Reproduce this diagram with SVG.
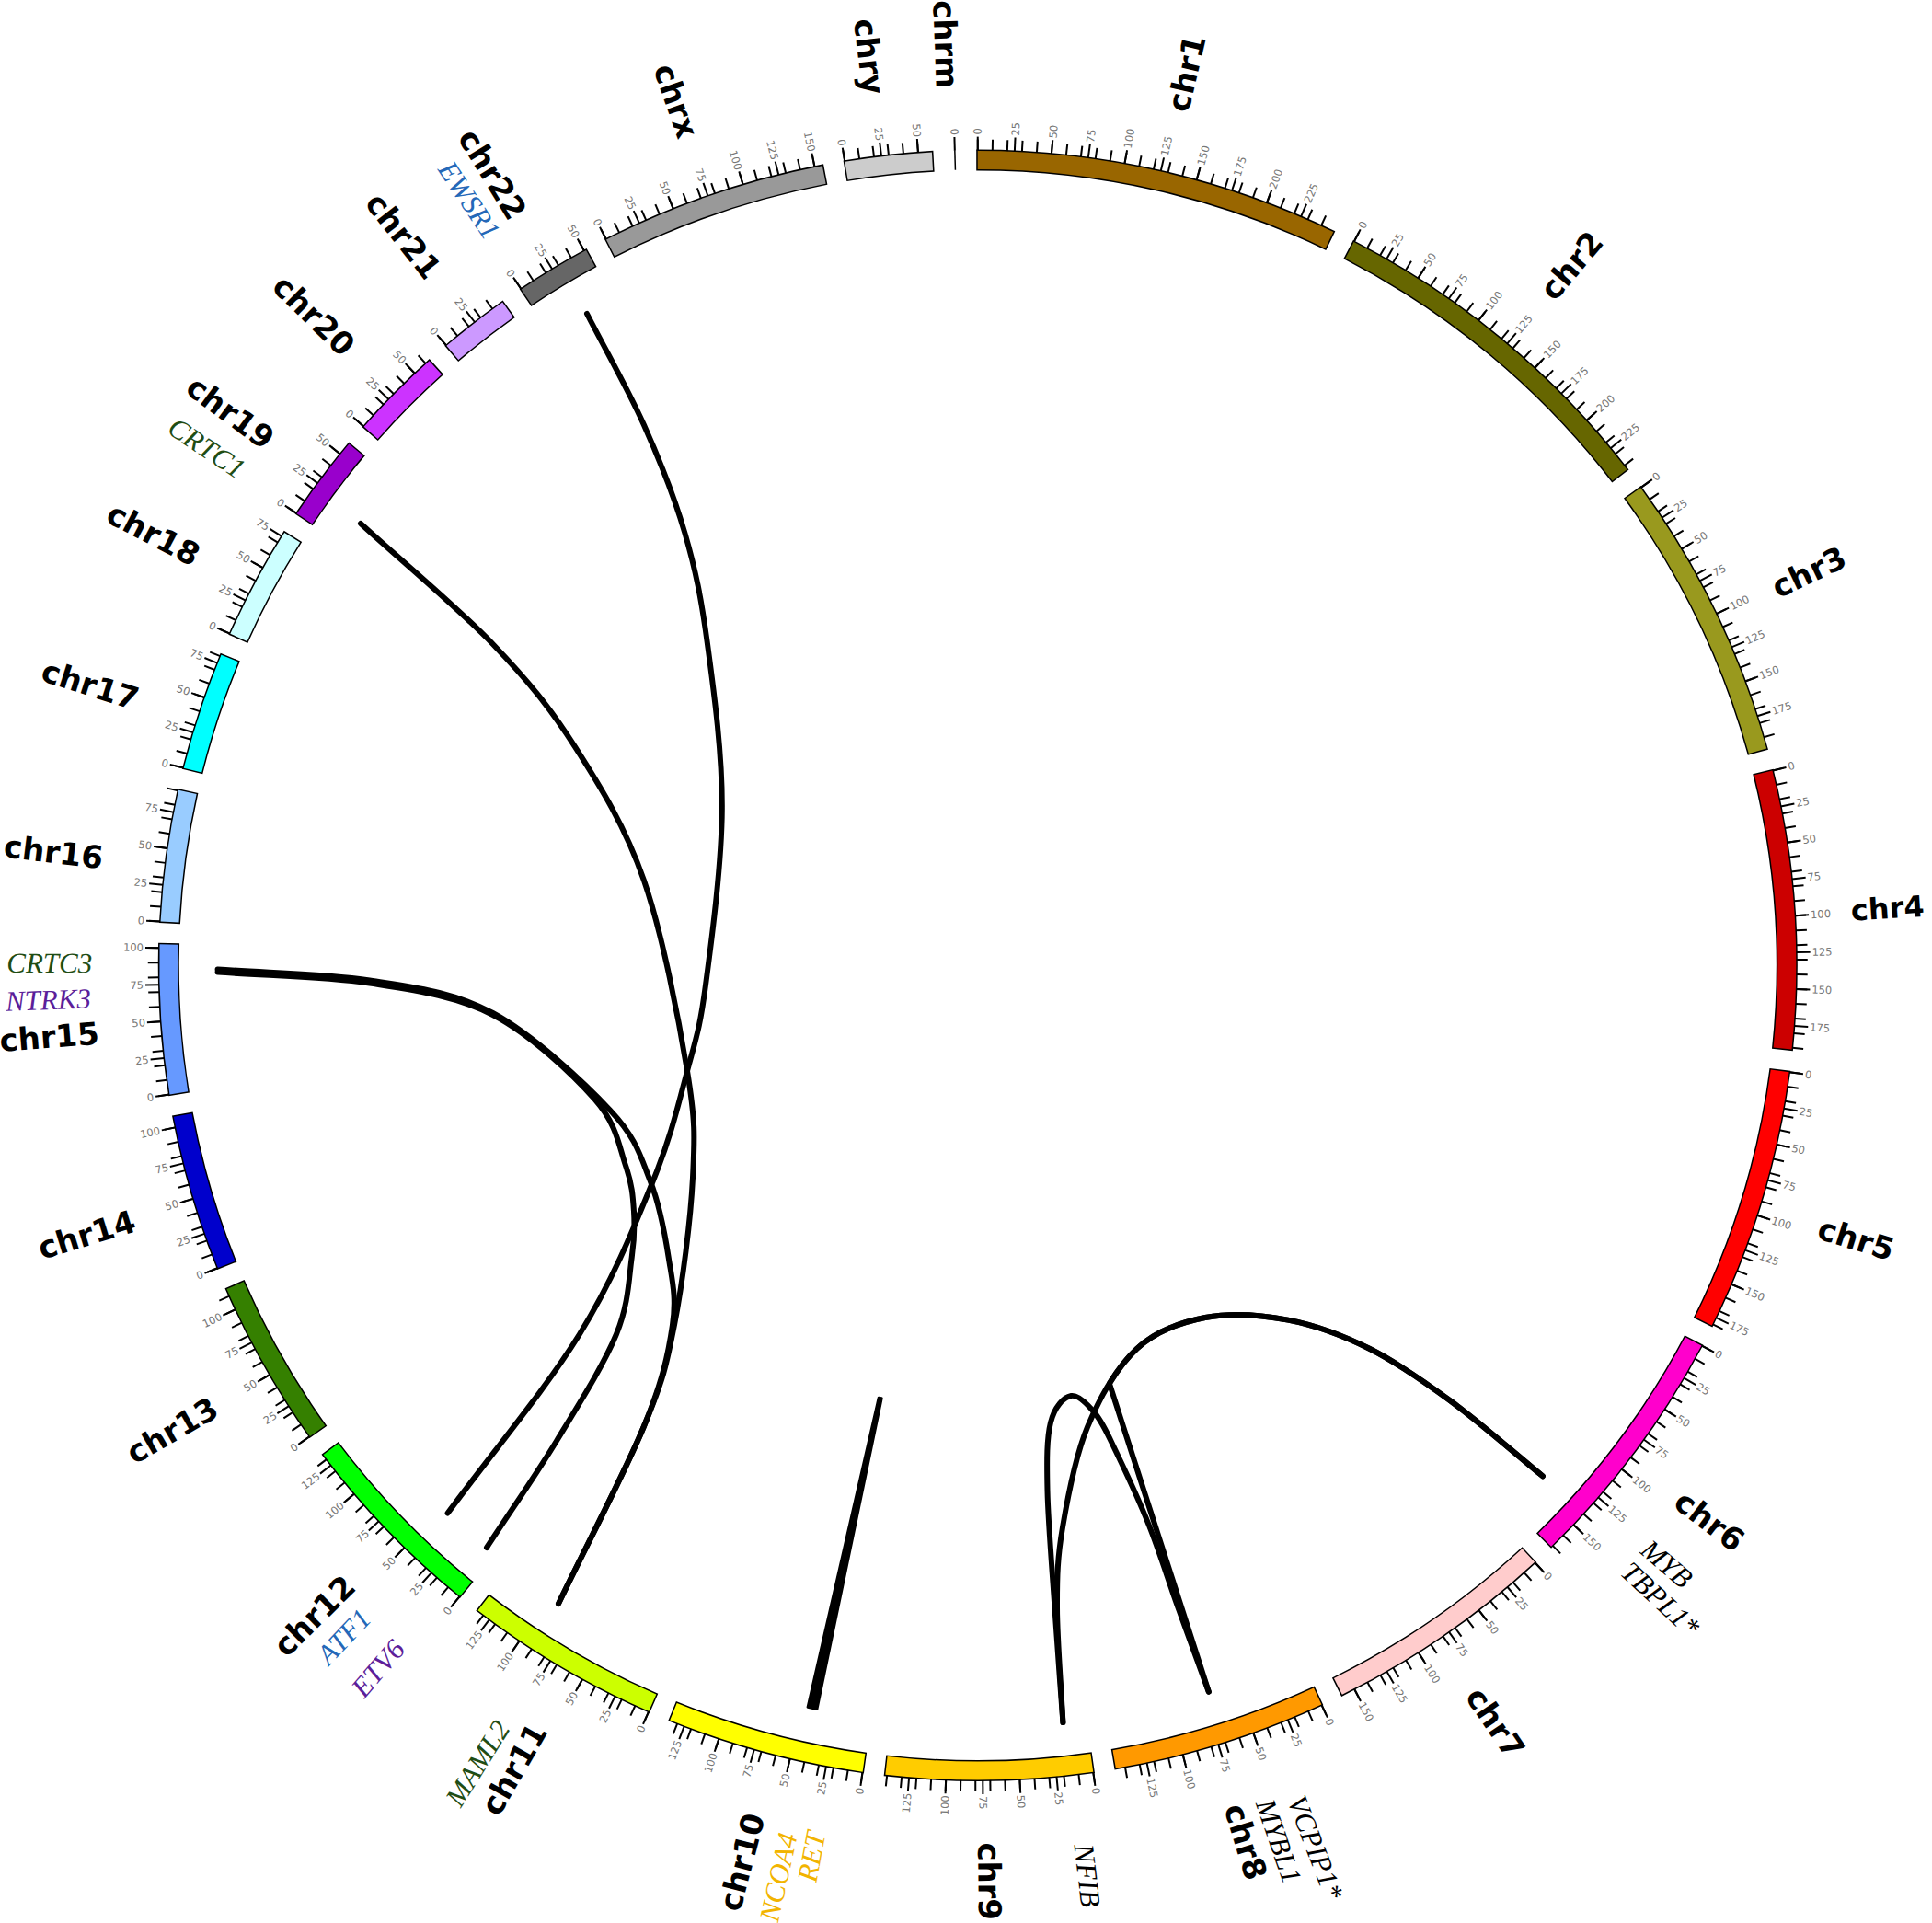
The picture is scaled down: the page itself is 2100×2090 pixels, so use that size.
<svg xmlns="http://www.w3.org/2000/svg" xmlns:xlink="http://www.w3.org/1999/xlink" width="2100" height="2090" viewBox="0 0 2100 2090">
<style>
.ol{fill:none;stroke:#000;stroke-width:23}
.bd{fill:none;stroke-width:20}
.tk{stroke:#000;stroke-width:2}
.tl{font-family:"DejaVu Sans",sans-serif;font-size:11.5px;fill:#777;dominant-baseline:central}
.r{text-anchor:start}
.l{text-anchor:end}
.cl{font-family:"DejaVu Sans",sans-serif;font-weight:bold;font-size:34px;fill:#000;dominant-baseline:central}
.gl{font-family:"Liberation Serif",serif;font-style:italic;font-size:31px;dominant-baseline:central;text-anchor:middle}
.lk{fill:none;stroke:#000;stroke-width:6;stroke-linecap:round;stroke-linejoin:round}
</style>
<defs>
<g id="a1"><line class="tk" x1="0" y1="-890" x2="0" y2="-902"/></g>
<g id="a2"><use href="#a1"/><use href="#a1" transform="rotate(1.0335)"/></g>
<g id="a4"><use href="#a2"/><use href="#a2" transform="rotate(2.067)"/></g>
<g id="a8"><use href="#a4"/><use href="#a4" transform="rotate(4.134)"/></g>
<g id="a16"><use href="#a8"/><use href="#a8" transform="rotate(8.268)"/></g>
<g id="c25"><use href="#a16"/><use href="#a8" transform="rotate(16.536)"/><use href="#a1" transform="rotate(24.804)"/></g>
<g id="c20"><use href="#a16"/><use href="#a4" transform="rotate(16.536)"/></g>
<g id="c19"><use href="#a16"/><use href="#a2" transform="rotate(16.536)"/><use href="#a1" transform="rotate(18.603)"/></g>
<g id="c18"><use href="#a16"/><use href="#a2" transform="rotate(16.536)"/></g>
<g id="c16"><use href="#a16"/></g>
<g id="c15"><use href="#a8"/><use href="#a4" transform="rotate(8.268)"/><use href="#a2" transform="rotate(12.402)"/><use href="#a1" transform="rotate(14.469)"/></g>
<g id="c14"><use href="#a8"/><use href="#a4" transform="rotate(8.268)"/><use href="#a2" transform="rotate(12.402)"/></g>
<g id="c12"><use href="#a8"/><use href="#a4" transform="rotate(8.268)"/></g>
<g id="c11"><use href="#a8"/><use href="#a2" transform="rotate(8.268)"/><use href="#a1" transform="rotate(10.335)"/></g>
<g id="c10"><use href="#a8"/><use href="#a2" transform="rotate(8.268)"/></g>
<g id="c9"><use href="#a8"/><use href="#a1" transform="rotate(8.268)"/></g>
<g id="c8"><use href="#a8"/></g>
<g id="c7"><use href="#a4"/><use href="#a2" transform="rotate(4.134)"/><use href="#a1" transform="rotate(6.201)"/></g>
<g id="c6"><use href="#a4"/><use href="#a2" transform="rotate(4.134)"/></g>
<g id="c5"><use href="#a4"/><use href="#a1" transform="rotate(4.134)"/></g>
<g id="b1"><line class="tk" x1="0" y1="-890" x2="0" y2="-905"/></g>
<g id="b2"><use href="#b1"/><use href="#b1" transform="rotate(2.58375)"/></g>
<g id="b4"><use href="#b2"/><use href="#b2" transform="rotate(5.1675)"/></g>
<g id="b8"><use href="#b4"/><use href="#b4" transform="rotate(10.335)"/></g>
<g id="d10"><use href="#b8"/><use href="#b2" transform="rotate(20.67)"/></g>
<g id="d8"><use href="#b8"/></g>
<g id="d7"><use href="#b4"/><use href="#b2" transform="rotate(10.335)"/><use href="#b1" transform="rotate(15.5025)"/></g>
<g id="d6"><use href="#b4"/><use href="#b2" transform="rotate(10.335)"/></g>
<g id="d5"><use href="#b4"/><use href="#b1" transform="rotate(10.335)"/></g>
<g id="d4"><use href="#b4"/></g>
<g id="d3"><use href="#b2"/><use href="#b1" transform="rotate(5.1675)"/></g>
<g id="d2"><use href="#b2"/></g>
</defs>
<rect width="2100" height="2090" fill="#fff"/>
<g id="ideogram" transform="translate(1062.75,1049.25) scale(1,0.9952)">
<g id="chr1" transform="rotate(0)">
<circle class="ol" r="879.5" pathLength="360" transform="rotate(-90.1)" stroke-dasharray="25.96 400"/>
<circle class="bd" stroke="#996600" r="879.5" pathLength="360" transform="rotate(-90)" stroke-dasharray="25.76 400"/>
<use href="#c25"/><use href="#d10"/>
<text class="tl r" transform="rotate(-90)" x="907">0</text>
<text class="tl r" transform="rotate(-87.416)" x="907">25</text>
<text class="tl r" transform="rotate(-84.832)" x="907">50</text>
<text class="tl r" transform="rotate(-82.249)" x="907">75</text>
<text class="tl r" transform="rotate(-79.665)" x="907">100</text>
<text class="tl r" transform="rotate(-77.081)" x="907">125</text>
<text class="tl r" transform="rotate(-74.497)" x="907">150</text>
<text class="tl r" transform="rotate(-71.914)" x="907">175</text>
<text class="tl r" transform="rotate(-69.33)" x="907">200</text>
<text class="tl r" transform="rotate(-66.746)" x="907">225</text>
<text class="cl r" transform="rotate(-76.87)" x="958">chr1</text>
</g>
<g id="chr2" transform="rotate(27.362)">
<circle class="ol" r="879.5" pathLength="360" transform="rotate(-90.1)" stroke-dasharray="25.335 400"/>
<circle class="bd" stroke="#666600" r="879.5" pathLength="360" transform="rotate(-90)" stroke-dasharray="25.135 400"/>
<use href="#c25"/><use href="#d10"/>
<text class="tl r" transform="rotate(-90)" x="907">0</text>
<text class="tl r" transform="rotate(-87.416)" x="907">25</text>
<text class="tl r" transform="rotate(-84.832)" x="907">50</text>
<text class="tl r" transform="rotate(-82.249)" x="907">75</text>
<text class="tl r" transform="rotate(-79.665)" x="907">100</text>
<text class="tl r" transform="rotate(-77.081)" x="907">125</text>
<text class="tl r" transform="rotate(-74.497)" x="907">150</text>
<text class="tl r" transform="rotate(-71.914)" x="907">175</text>
<text class="tl r" transform="rotate(-69.33)" x="907">200</text>
<text class="tl r" transform="rotate(-66.746)" x="907">225</text>
<text class="cl r" transform="rotate(-77.16)" x="958">chr2</text>
</g>
<g id="chr3" transform="rotate(54.1)">
<circle class="ol" r="879.5" pathLength="360" transform="rotate(-90.1)" stroke-dasharray="20.665 400"/>
<circle class="bd" stroke="#99991E" r="879.5" pathLength="360" transform="rotate(-90)" stroke-dasharray="20.465 400"/>
<use href="#c20"/><use href="#d8"/>
<text class="tl r" transform="rotate(-90)" x="907">0</text>
<text class="tl r" transform="rotate(-87.416)" x="907">25</text>
<text class="tl r" transform="rotate(-84.832)" x="907">50</text>
<text class="tl r" transform="rotate(-82.249)" x="907">75</text>
<text class="tl r" transform="rotate(-79.665)" x="907">100</text>
<text class="tl r" transform="rotate(-77.081)" x="907">125</text>
<text class="tl r" transform="rotate(-74.497)" x="907">150</text>
<text class="tl r" transform="rotate(-71.914)" x="907">175</text>
<text class="cl r" transform="rotate(-79.5)" x="958">chr3</text>
</g>
<g id="chr4" transform="rotate(76.167)">
<circle class="ol" r="879.5" pathLength="360" transform="rotate(-90.1)" stroke-dasharray="19.955 400"/>
<circle class="bd" stroke="#CC0000" r="879.5" pathLength="360" transform="rotate(-90)" stroke-dasharray="19.755 400"/>
<use href="#c20"/><use href="#d8"/>
<text class="tl r" transform="rotate(-90)" x="907">0</text>
<text class="tl r" transform="rotate(-87.416)" x="907">25</text>
<text class="tl r" transform="rotate(-84.832)" x="907">50</text>
<text class="tl r" transform="rotate(-82.249)" x="907">75</text>
<text class="tl r" transform="rotate(-79.665)" x="907">100</text>
<text class="tl r" transform="rotate(-77.081)" x="907">125</text>
<text class="tl r" transform="rotate(-74.497)" x="907">150</text>
<text class="tl r" transform="rotate(-71.914)" x="907">175</text>
<text class="cl r" transform="rotate(-79.77)" x="951" style="font-size:32px">chr4</text>
</g>
<g id="chr5" transform="rotate(97.525)">
<circle class="ol" r="879.5" pathLength="360" transform="rotate(-90.1)" stroke-dasharray="18.898 400"/>
<circle class="bd" stroke="#FF0000" r="879.5" pathLength="360" transform="rotate(-90)" stroke-dasharray="18.698 400"/>
<use href="#c19"/><use href="#d8"/>
<text class="tl r" transform="rotate(-90)" x="907">0</text>
<text class="tl r" transform="rotate(-87.416)" x="907">25</text>
<text class="tl r" transform="rotate(-84.832)" x="907">50</text>
<text class="tl r" transform="rotate(-82.249)" x="907">75</text>
<text class="tl r" transform="rotate(-79.665)" x="907">100</text>
<text class="tl r" transform="rotate(-77.081)" x="907">125</text>
<text class="tl r" transform="rotate(-74.497)" x="907">150</text>
<text class="tl r" transform="rotate(-71.914)" x="907">175</text>
<text class="cl r" transform="rotate(-80.12)" x="958">chr5</text>
</g>
<g id="chr6" transform="rotate(117.825)">
<circle class="ol" r="879.5" pathLength="360" transform="rotate(-90.1)" stroke-dasharray="17.885 400"/>
<circle class="bd" stroke="#FF00CC" r="879.5" pathLength="360" transform="rotate(-90)" stroke-dasharray="17.685 400"/>
<use href="#c18"/><use href="#d7"/>
<text class="tl r" transform="rotate(-90)" x="907">0</text>
<text class="tl r" transform="rotate(-87.416)" x="907">25</text>
<text class="tl r" transform="rotate(-84.832)" x="907">50</text>
<text class="tl r" transform="rotate(-82.249)" x="907">75</text>
<text class="tl r" transform="rotate(-79.665)" x="907">100</text>
<text class="tl r" transform="rotate(-77.081)" x="907">125</text>
<text class="tl r" transform="rotate(-74.497)" x="907">150</text>
<text class="cl r" transform="rotate(-80.47)" x="958">chr6</text>
</g>
<g id="chr7" transform="rotate(137.113)">
<circle class="ol" r="879.5" pathLength="360" transform="rotate(-90.1)" stroke-dasharray="16.647 400"/>
<circle class="bd" stroke="#FFCCCC" r="879.5" pathLength="360" transform="rotate(-90)" stroke-dasharray="16.447 400"/>
<use href="#c16"/><use href="#d7"/>
<text class="tl r" transform="rotate(-90)" x="907">0</text>
<text class="tl r" transform="rotate(-87.416)" x="907">25</text>
<text class="tl r" transform="rotate(-84.832)" x="907">50</text>
<text class="tl r" transform="rotate(-82.249)" x="907">75</text>
<text class="tl r" transform="rotate(-79.665)" x="907">100</text>
<text class="tl r" transform="rotate(-77.081)" x="907">125</text>
<text class="tl r" transform="rotate(-74.497)" x="907">150</text>
<text class="cl r" transform="rotate(-81.31)" x="958">chr7</text>
</g>
<g id="chr8" transform="rotate(155.163)">
<circle class="ol" r="879.5" pathLength="360" transform="rotate(-90.1)" stroke-dasharray="15.326 400"/>
<circle class="bd" stroke="#FF9900" r="879.5" pathLength="360" transform="rotate(-90)" stroke-dasharray="15.126 400"/>
<use href="#c15"/><use href="#d6"/>
<text class="tl r" transform="rotate(-90)" x="907">0</text>
<text class="tl r" transform="rotate(-87.416)" x="907">25</text>
<text class="tl r" transform="rotate(-84.832)" x="907">50</text>
<text class="tl r" transform="rotate(-82.249)" x="907">75</text>
<text class="tl r" transform="rotate(-79.665)" x="907">100</text>
<text class="tl r" transform="rotate(-77.081)" x="907">125</text>
<text class="cl r" transform="rotate(-82.06)" x="958">chr8</text>
</g>
<g id="chr9" transform="rotate(171.891)">
<circle class="ol" r="879.5" pathLength="360" transform="rotate(-90.1)" stroke-dasharray="14.794 400"/>
<circle class="bd" stroke="#FFCC00" r="879.5" pathLength="360" transform="rotate(-90)" stroke-dasharray="14.594 400"/>
<use href="#c15"/><use href="#d6"/>
<text class="tl r" transform="rotate(-90)" x="907">0</text>
<text class="tl r" transform="rotate(-87.416)" x="907">25</text>
<text class="tl r" transform="rotate(-84.832)" x="907">50</text>
<text class="tl r" transform="rotate(-82.249)" x="907">75</text>
<text class="tl l" transform="rotate(100.335)" x="-907">100</text>
<text class="tl l" transform="rotate(102.919)" x="-907">125</text>
<text class="cl r" transform="rotate(-82.59)" x="958">chr9</text>
</g>
<g id="chr10" transform="rotate(188.088)">
<circle class="ol" r="879.5" pathLength="360" transform="rotate(-90.1)" stroke-dasharray="14.207 400"/>
<circle class="bd" stroke="#FFFF00" r="879.5" pathLength="360" transform="rotate(-90)" stroke-dasharray="14.007 400"/>
<use href="#c14"/><use href="#d6"/>
<text class="tl l" transform="rotate(90)" x="-907">0</text>
<text class="tl l" transform="rotate(92.584)" x="-907">25</text>
<text class="tl l" transform="rotate(95.168)" x="-907">50</text>
<text class="tl l" transform="rotate(97.751)" x="-907">75</text>
<text class="tl l" transform="rotate(100.335)" x="-907">100</text>
<text class="tl l" transform="rotate(102.919)" x="-907">125</text>
<text class="cl l" transform="rotate(96.56)" x="-958">chr10</text>
</g>
<g id="chr11" transform="rotate(203.697)">
<circle class="ol" r="879.5" pathLength="360" transform="rotate(-90.1)" stroke-dasharray="14.153 400"/>
<circle class="bd" stroke="#CCFF00" r="879.5" pathLength="360" transform="rotate(-90)" stroke-dasharray="13.953 400"/>
<use href="#c14"/><use href="#d6"/>
<text class="tl l" transform="rotate(90)" x="-907">0</text>
<text class="tl l" transform="rotate(92.584)" x="-907">25</text>
<text class="tl l" transform="rotate(95.168)" x="-907">50</text>
<text class="tl l" transform="rotate(97.751)" x="-907">75</text>
<text class="tl l" transform="rotate(100.335)" x="-907">100</text>
<text class="tl l" transform="rotate(102.919)" x="-907">125</text>
<text class="cl l" transform="rotate(96.15)" x="-958">chr11</text>
</g>
<g id="chr12" transform="rotate(219.253)">
<circle class="ol" r="879.5" pathLength="360" transform="rotate(-90.1)" stroke-dasharray="14.033 400"/>
<circle class="bd" stroke="#00FF00" r="879.5" pathLength="360" transform="rotate(-90)" stroke-dasharray="13.833 400"/>
<use href="#c14"/><use href="#d6"/>
<text class="tl l" transform="rotate(90)" x="-907">0</text>
<text class="tl l" transform="rotate(92.584)" x="-907">25</text>
<text class="tl l" transform="rotate(95.168)" x="-907">50</text>
<text class="tl l" transform="rotate(97.751)" x="-907">75</text>
<text class="tl l" transform="rotate(100.335)" x="-907">100</text>
<text class="tl l" transform="rotate(102.919)" x="-907">125</text>
<text class="cl l" transform="rotate(96.15)" x="-958">chr12</text>
</g>
<g id="chr13" transform="rotate(234.689)">
<circle class="ol" r="879.5" pathLength="360" transform="rotate(-90.1)" stroke-dasharray="12.103 400"/>
<circle class="bd" stroke="#358000" r="879.5" pathLength="360" transform="rotate(-90)" stroke-dasharray="11.903 400"/>
<use href="#c12"/><use href="#d5"/>
<text class="tl l" transform="rotate(90)" x="-907">0</text>
<text class="tl l" transform="rotate(92.584)" x="-907">25</text>
<text class="tl l" transform="rotate(95.168)" x="-907">50</text>
<text class="tl l" transform="rotate(97.751)" x="-907">75</text>
<text class="tl l" transform="rotate(100.335)" x="-907">100</text>
<text class="cl l" transform="rotate(95.17)" x="-958">chr13</text>
</g>
<g id="chr14" transform="rotate(248.194)">
<circle class="ol" r="879.5" pathLength="360" transform="rotate(-90.1)" stroke-dasharray="11.295 400"/>
<circle class="bd" stroke="#0000CC" r="879.5" pathLength="360" transform="rotate(-90)" stroke-dasharray="11.095 400"/>
<use href="#c11"/><use href="#d5"/>
<text class="tl l" transform="rotate(90)" x="-907">0</text>
<text class="tl l" transform="rotate(92.584)" x="-907">25</text>
<text class="tl l" transform="rotate(95.168)" x="-907">50</text>
<text class="tl l" transform="rotate(97.751)" x="-907">75</text>
<text class="tl l" transform="rotate(100.335)" x="-907">100</text>
<text class="cl l" transform="rotate(94.89)" x="-958">chr14</text>
</g>
<g id="chr15" transform="rotate(260.891)">
<circle class="ol" r="879.5" pathLength="360" transform="rotate(-90.1)" stroke-dasharray="10.796 400"/>
<circle class="bd" stroke="#6699FF" r="879.5" pathLength="360" transform="rotate(-90)" stroke-dasharray="10.596 400"/>
<use href="#c11"/><use href="#d5"/>
<text class="tl l" transform="rotate(90)" x="-907">0</text>
<text class="tl l" transform="rotate(92.584)" x="-907">25</text>
<text class="tl l" transform="rotate(95.168)" x="-907">50</text>
<text class="tl l" transform="rotate(97.751)" x="-907">75</text>
<text class="tl l" transform="rotate(100.335)" x="-907">100</text>
<text class="cl l" transform="rotate(94.66)" x="-958">chr15</text>
</g>
<g id="chr16" transform="rotate(273.09)">
<circle class="ol" r="879.5" pathLength="360" transform="rotate(-90.1)" stroke-dasharray="9.538 400"/>
<circle class="bd" stroke="#99CCFF" r="879.5" pathLength="360" transform="rotate(-90)" stroke-dasharray="9.338 400"/>
<use href="#c10"/><use href="#d4"/>
<text class="tl l" transform="rotate(90)" x="-907">0</text>
<text class="tl l" transform="rotate(92.584)" x="-907">25</text>
<text class="tl l" transform="rotate(95.168)" x="-907">50</text>
<text class="tl l" transform="rotate(97.751)" x="-907">75</text>
<text class="cl l" transform="rotate(93.91)" x="-958">chr16</text>
</g>
<g id="chr17" transform="rotate(284.03)">
<circle class="ol" r="879.5" pathLength="360" transform="rotate(-90.1)" stroke-dasharray="8.592 400"/>
<circle class="bd" stroke="#00FFFF" r="879.5" pathLength="360" transform="rotate(-90)" stroke-dasharray="8.392 400"/>
<use href="#c9"/><use href="#d4"/>
<text class="tl l" transform="rotate(90)" x="-907">0</text>
<text class="tl l" transform="rotate(92.584)" x="-907">25</text>
<text class="tl l" transform="rotate(95.168)" x="-907">50</text>
<text class="tl l" transform="rotate(97.751)" x="-907">75</text>
<text class="cl l" transform="rotate(93.57)" x="-958">chr17</text>
</g>
<g id="chr18" transform="rotate(294.025)">
<circle class="ol" r="879.5" pathLength="360" transform="rotate(-90.1)" stroke-dasharray="8.27 400"/>
<circle class="bd" stroke="#CCFFFF" r="879.5" pathLength="360" transform="rotate(-90)" stroke-dasharray="8.07 400"/>
<use href="#c8"/><use href="#d4"/>
<text class="tl l" transform="rotate(90)" x="-907">0</text>
<text class="tl l" transform="rotate(92.584)" x="-907">25</text>
<text class="tl l" transform="rotate(95.168)" x="-907">50</text>
<text class="tl l" transform="rotate(97.751)" x="-907">75</text>
<text class="cl l" transform="rotate(93.68)" x="-958">chr18</text>
</g>
<g id="chr19" transform="rotate(303.696)">
<circle class="ol" r="879.5" pathLength="360" transform="rotate(-90.1)" stroke-dasharray="6.311 400"/>
<circle class="bd" stroke="#9900CC" r="879.5" pathLength="360" transform="rotate(-90)" stroke-dasharray="6.111 400"/>
<use href="#c6"/><use href="#d3"/>
<text class="tl l" transform="rotate(90)" x="-907">0</text>
<text class="tl l" transform="rotate(92.584)" x="-907">25</text>
<text class="tl l" transform="rotate(95.168)" x="-907">50</text>
<text class="cl l" transform="rotate(92.9)" x="-958">chr19</text>
</g>
<g id="chr20" transform="rotate(311.41)">
<circle class="ol" r="879.5" pathLength="360" transform="rotate(-90.1)" stroke-dasharray="6.714 400"/>
<circle class="bd" stroke="#CC33FF" r="879.5" pathLength="360" transform="rotate(-90)" stroke-dasharray="6.514 400"/>
<use href="#c7"/><use href="#d3"/>
<text class="tl l" transform="rotate(90)" x="-907">0</text>
<text class="tl l" transform="rotate(92.584)" x="-907">25</text>
<text class="tl l" transform="rotate(95.168)" x="-907">50</text>
<text class="cl l" transform="rotate(93.09)" x="-958">chr20</text>
</g>
<g id="chr21" transform="rotate(319.526)">
<circle class="ol" r="879.5" pathLength="360" transform="rotate(-90.1)" stroke-dasharray="5.174 400"/>
<circle class="bd" stroke="#CC99FF" r="879.5" pathLength="360" transform="rotate(-90)" stroke-dasharray="4.974 400"/>
<use href="#c5"/><use href="#d2"/>
<text class="tl l" transform="rotate(90)" x="-907">0</text>
<text class="tl l" transform="rotate(92.584)" x="-907">25</text>
<text class="cl l" transform="rotate(92.37)" x="-958">chr21</text>
</g>
<g id="chr22" transform="rotate(326.103)">
<circle class="ol" r="879.5" pathLength="360" transform="rotate(-90.1)" stroke-dasharray="5.502 400"/>
<circle class="bd" stroke="#666666" r="879.5" pathLength="360" transform="rotate(-90)" stroke-dasharray="5.302 400"/>
<use href="#c6"/><use href="#d3"/>
<text class="tl l" transform="rotate(90)" x="-907">0</text>
<text class="tl l" transform="rotate(92.584)" x="-907">25</text>
<text class="tl l" transform="rotate(95.168)" x="-907">50</text>
<text class="cl l" transform="rotate(92.47)" x="-958">chr22</text>
</g>
<g id="chrx" transform="rotate(333.007)">
<circle class="ol" r="879.5" pathLength="360" transform="rotate(-90.1)" stroke-dasharray="16.247 400"/>
<circle class="bd" stroke="#999999" r="879.5" pathLength="360" transform="rotate(-90)" stroke-dasharray="16.047 400"/>
<use href="#c16"/><use href="#d7"/>
<text class="tl l" transform="rotate(90)" x="-907">0</text>
<text class="tl l" transform="rotate(92.584)" x="-907">25</text>
<text class="tl l" transform="rotate(95.168)" x="-907">50</text>
<text class="tl l" transform="rotate(97.751)" x="-907">75</text>
<text class="tl l" transform="rotate(100.335)" x="-907">100</text>
<text class="tl l" transform="rotate(102.919)" x="-907">125</text>
<text class="tl l" transform="rotate(105.503)" x="-907">150</text>
<text class="cl l" transform="rotate(97.82)" x="-958">chrx</text>
</g>
<g id="chry" transform="rotate(350.657)">
<circle class="ol" r="879.5" pathLength="360" transform="rotate(-90.1)" stroke-dasharray="6.336 400"/>
<circle class="bd" stroke="#CCCCCC" r="879.5" pathLength="360" transform="rotate(-90)" stroke-dasharray="6.136 400"/>
<use href="#c6"/><use href="#d3"/>
<text class="tl l" transform="rotate(90)" x="-907">0</text>
<text class="tl l" transform="rotate(92.584)" x="-907">25</text>
<text class="tl l" transform="rotate(95.168)" x="-907">50</text>
<text class="cl l" transform="rotate(92.54)" x="-958">chry</text>
</g>
<g id="chrm" transform="rotate(358.396)">
<line x1="0" y1="-869" x2="0" y2="-890" stroke="#000" stroke-width="1.5"/>
<use href="#b1"/>
<text class="tl l" transform="rotate(90)" x="-907">0</text>
<text class="cl l" transform="rotate(89.6)" x="-958">chrm</text>
</g>
<g id="genes">
<text class="gl" fill="#2468b8" transform="rotate(56.53)" x="-1002">EWSR1</text>
<text class="gl" fill="#1f4d14" transform="rotate(34)" x="-1011">CRTC1</text>
<text class="gl" fill="#1f4d14" transform="rotate(0.15)" x="-1009">CRTC3</text>
<text class="gl" fill="#5c1e9a" transform="rotate(357.87)" x="-1011">NTRK3</text>
<text class="gl" fill="#2468b8" transform="rotate(313.23)" x="-1006">ATF1</text>
<text class="gl" fill="#5c1e9a" transform="rotate(310.34)" x="-1007">ETV6</text>
<text class="gl" fill="#1f4d14" transform="rotate(301.96)" x="-1027">MAML2</text>
<text class="gl" fill="#f2b400" transform="rotate(282.28)" x="-1019">NCOA4</text>
<text class="gl" fill="#f2b400" transform="rotate(280.52)" x="-990">RET</text>
<text class="gl" fill="#000" transform="rotate(83.16)" x="1001">NFIB</text>
<text class="gl" fill="#000" transform="rotate(71.11)" x="1011">MYBL1</text>
<text class="gl" fill="#000" transform="rotate(69.14)" x="1031">VCPIP1*</text>
<text class="gl" fill="#000" transform="rotate(41.1)" x="994">MYB</text>
<text class="gl" fill="#000" transform="rotate(43)" x="1015">TBPL1*</text>
</g>
</g>
<g id="links">
<path class="lk" d="M638,341 C658.7,381.3 682.2,422.2 700,462 C717.8,501.8 733.1,540.3 744.6,580 C756.1,619.7 762.3,650.2 769,700 C775.7,749.8 785.1,816.8 784.8,878.6 C784.5,940.4 773.3,1022.9 767,1070.5 C760.7,1118.1 756.5,1128.6 747,1164 C737.5,1199.4 729.5,1235.3 710,1283 C690.5,1330.7 667.2,1389.75 630,1450 C592.8,1510.25 534.4,1579.7 486.6,1644.5"/>
<path class="lk" d="M392,569 C439.9,612.7 496.9,659.6 535.7,700 C574.5,740.4 597.6,768.8 625,811.6 C652.4,854.4 679.7,898.3 700,957 C720.3,1015.7 738.2,1110.2 747,1164 C755.8,1217.8 755.3,1234 753,1280 C750.7,1326 741.8,1395 733,1440 C724.2,1485 721,1499.5 700,1550 C679,1600.5 638,1678.7 607,1743"/>
<path class="lk" d="M236.6,1053.5 C291.7,1057.5 351.95,1057.6 401.8,1065.5 C451.65,1073.4 492.1,1077.5 535.7,1101 C579.3,1124.5 634.8,1176.3 663.3,1206.7 C691.8,1237.1 696.1,1256.6 706.7,1283.3 C717.3,1310 722.65,1340.6 726.7,1366.7 C730.75,1392.8 735.45,1409.45 731,1440 C726.55,1470.55 720.7,1499.5 700,1550 C679.3,1600.5 638,1678.7 607,1743"/>
<path class="lk" d="M236.6,1056.5 C291.7,1060.5 351.95,1060.75 401.8,1068.5 C451.65,1076.25 494.9,1081.9 535.7,1103 C576.5,1124.1 622.65,1167.7 646.7,1195 C670.75,1222.3 672.95,1246.4 680,1266.7 C687.05,1287 687.9,1300 689,1316.7 C690.1,1333.4 689.9,1344.5 686.7,1366.7 C683.5,1388.9 683.6,1416.8 670,1450 C656.4,1483.2 628.5,1527.3 605,1566 C581.5,1604.7 554.3,1643.3 529,1682"/>
<path d="M878.1,1855.4 L887.9,1857.6 L958.2,1519.8 L955.2,1519.2 Z" fill="#000" stroke="#000" stroke-width="3" stroke-linejoin="round"/>
<path class="lk" d="M1676.8,1604.3 C1644.1,1577.5 1609.9,1547.05 1578.6,1524 C1547.3,1500.95 1518.8,1480.9 1489,1466 C1459.2,1451.1 1429.8,1440.3 1400,1434.6 C1370.2,1428.9 1337.4,1426.8 1310,1432 C1282.6,1437.2 1257,1446.1 1235.7,1465.9 C1214.4,1485.7 1195.5,1518.65 1182,1551 C1168.55,1583.35 1160.5,1627.3 1155,1660 C1149.5,1692.7 1148.9,1711.7 1149,1747 C1149.1,1782.3 1153.3,1830.3 1155.4,1872"/>
<path class="lk" d="M1676.8,1604.3 C1644.1,1577.5 1609.9,1547.05 1578.6,1524 C1547.3,1500.95 1518.8,1480.9 1489,1466 C1459.2,1451.1 1429.8,1440.3 1400,1434.6 C1370.2,1428.9 1337.4,1426.8 1310,1432 C1282.6,1437.2 1257,1446.1 1235.7,1465.9 C1225.05,1475.8 1215,1489 1205.9,1503.7 L1313.8,1838.7"/>
<path class="lk" d="M1155.4,1872 C1152.4,1830.3 1149.2,1789 1146.4,1747 C1143.6,1705 1139.2,1653.5 1138.5,1620 C1137.8,1586.5 1137.7,1563.2 1142,1546 C1146.3,1528.8 1156.1,1518.5 1164.3,1517 C1172.5,1515.5 1182.9,1526.9 1191,1537 C1199.1,1547.1 1203.3,1557.3 1213,1577.5 C1222.7,1597.7 1237.8,1629.75 1249,1658 C1260.2,1686.25 1269.6,1716.9 1280.4,1747 C1291.2,1777.1 1302.7,1808.1 1313.8,1838.7"/>
</g>
</svg>
